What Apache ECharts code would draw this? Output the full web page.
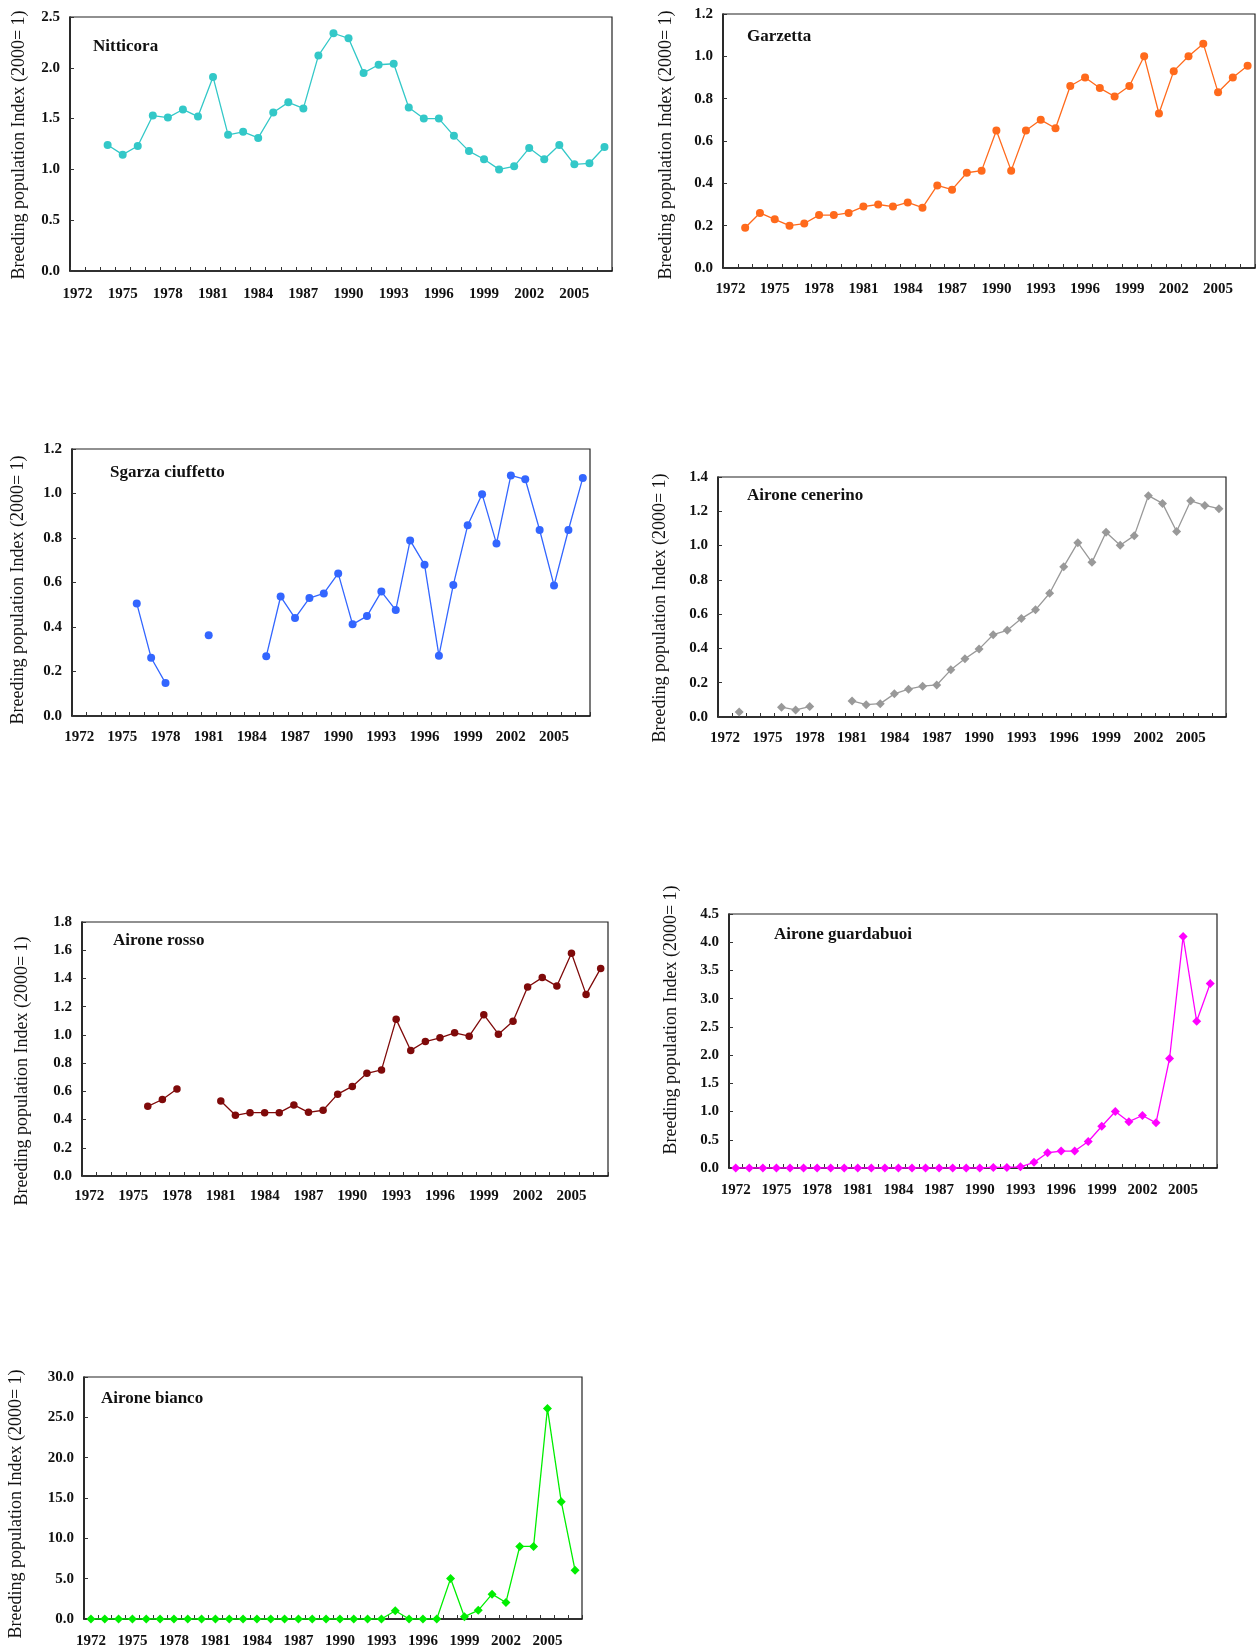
<!DOCTYPE html>
<html>
<head>
<meta charset="utf-8">
<script src="https://cdn.jsdelivr.net/npm/echarts@6/dist/echarts.min.js"></script>
<style>
html,body{margin:0;padding:0;background:#fff;}
#c{width:1257px;height:1649px;}
</style>
</head>
<body>
<div id="c"></div>
<script>
// ---- DATA ----
const years = ['1972','1973','1974','1975','1976','1977','1978','1979','1980','1981','1982','1983','1984','1985','1986','1987','1988','1989','1990','1991','1992','1993','1994','1995','1996','1997','1998','1999','2000','2001','2002','2003','2004','2005','2006','2007'];

const nitticora = [null,null,1.24,1.145,1.23,1.53,1.51,1.59,1.52,1.91,1.34,1.37,1.31,1.56,1.66,1.60,2.12,2.34,2.29,1.95,2.03,2.04,1.61,1.50,1.50,1.33,1.18,1.10,1.00,1.03,1.21,1.10,1.24,1.05,1.06,1.22];
const garzetta = [null,0.19,0.26,0.23,0.20,0.21,0.25,0.25,0.26,0.29,0.30,0.29,0.31,0.285,0.39,0.37,0.45,0.46,0.65,0.46,0.65,0.70,0.66,0.86,0.90,0.85,0.81,0.86,1.00,0.73,0.93,1.00,1.06,0.83,0.90,0.955];
const sgarza = [null,null,null,null,0.506,0.262,0.148,null,null,0.363,null,null,null,0.268,0.537,0.44,0.53,0.551,0.641,0.412,0.449,0.559,0.476,0.789,0.68,0.271,0.589,0.857,0.997,0.775,1.081,1.064,0.836,0.587,0.836,1.07];
const cenerino = [null,0.029,null,null,0.057,0.041,0.061,null,null,0.094,0.072,0.078,0.135,0.162,0.18,0.187,0.275,0.34,0.396,0.48,0.506,0.574,0.625,0.722,0.877,1.017,0.902,1.078,1.002,1.058,1.291,1.246,1.082,1.261,1.234,1.215];
const rosso = [null,null,null,null,0.494,0.542,0.616,null,null,0.532,0.43,0.449,0.449,0.449,0.504,0.451,0.466,0.58,0.635,0.728,0.752,1.11,0.89,0.953,0.979,1.015,0.991,1.143,1.005,1.096,1.339,1.406,1.346,1.578,1.287,1.471];
const guardabuoi = [0,0,0,0,0,0,0,0,0,0,0,0,0,0,0,0,0,0,0,0.01,0.01,0.02,0.10,0.27,0.30,0.30,0.47,0.74,1.00,0.82,0.93,0.80,1.94,4.10,2.60,3.27];
const bianco = [0,0,0,0,0,0,0,0,0,0,0,0,0,0,0,0,0,0,0,0,0,0,1.03,0,0,0,5.01,0.29,1.07,3.08,2.05,9.0,9.0,26.1,14.55,6.04];

const titles = ['Nitticora','Garzetta','Sgarza ciuffetto','Airone cenerino','Airone rosso','Airone guardabuoi','Airone bianco'];
const yName = 'Breeding population Index (2000= 1)';
const yMax = [2.5,1.2,1.2,1.4,1.8,4.5,30];
const yStep = [0.5,0.2,0.2,0.2,0.2,0.5,5];
const seriesData = [nitticora,garzetta,sgarza,cenerino,rosso,guardabuoi,bianco];

// ---- STYLE / LAYOUT ----
const colors = ['#33c8c8','#ff6a1c','#3366ff','#999999','#7f0a0a','#ff00ff','#00ee00'];
const symbols = ['circle','circle','circle','diamond','circle','diamond','diamond'];
const symSizes = [8,8,8,9,7.5,9,9];
const grids = [
  {left:70, top:17, width:542, height:254},
  {left:723, top:14, width:532, height:254},
  {left:72, top:449, width:518, height:267},
  {left:718, top:477, width:508, height:240},
  {left:82, top:922, width:526, height:254},
  {left:729, top:914, width:488, height:254},
  {left:84, top:1377, width:498, height:243}
];
const xMargins = [16,14,14,14,13,15,15];
const titlePos = [[93,38],[747,28],[110,464],[747,487],[113,932],[774,926],[101,1390]];
const namePos = [[19,145],[666,145],[18,590],[660,608],[22,1071],[671,1020],[16,1504]];

const serif = '"Liberation Serif","DejaVu Serif",serif';

const option = {
  animation:false,
  backgroundColor:'#fff',
  title: titles.map((t,i)=>({
    text:t, left:titlePos[i][0], top:titlePos[i][1], padding:0,
    textStyle:{fontFamily:serif, fontWeight:'bold', fontSize:17, color:'#111'}
  })),
  grid: grids.map(g=>Object.assign({show:true, borderColor:'#222', borderWidth:1.2, backgroundColor:'transparent'}, g)),
  xAxis: grids.map((g,i)=>({
    type:'category', gridIndex:i, data:years, boundaryGap:true,
    axisLine:{show:true, lineStyle:{color:'#111', width:1.5}},
    axisTick:{show:true, inside:true, length:4, interval:0, lineStyle:{color:'#333'}},
    axisLabel:{interval:2, margin:xMargins[i], fontFamily:serif, fontWeight:'bold', fontSize:15, color:'#111'},
    splitLine:{show:false}
  })),
  yAxis: grids.map((g,i)=>({
    type:'value', gridIndex:i, min:0, max:yMax[i], interval:yStep[i],
    axisLine:{show:true, lineStyle:{color:'#111', width:1.5}},
    axisTick:{show:true, inside:true, length:4, lineStyle:{color:'#333'}},
    axisLabel:{margin:10, fontFamily:serif, fontWeight:'bold', fontSize:15, color:'#111',
      formatter:v=>v.toFixed(1)},
    splitLine:{show:false}
  })),
  graphic: namePos.map(p=>({
    type:'text', x:p[0], y:p[1], rotation:Math.PI/2,
    style:{text:yName, fontFamily:serif, fontSize:18, fill:'#111', textAlign:'center', textVerticalAlign:'middle'}
  })),
  series: seriesData.map((d,i)=>({
    type:'line', xAxisIndex:i, yAxisIndex:i, data:d,
    connectNulls:false, showSymbol:true, showAllSymbol:true,
    symbol:symbols[i], symbolSize:symSizes[i],
    lineStyle:{color:colors[i], width:1.3},
    itemStyle:{color:colors[i]},
    z:3
  }))
};

const chart = echarts.init(document.getElementById('c'), null, {renderer:'canvas'});
chart.setOption(option);
</script>
</body>
</html>
